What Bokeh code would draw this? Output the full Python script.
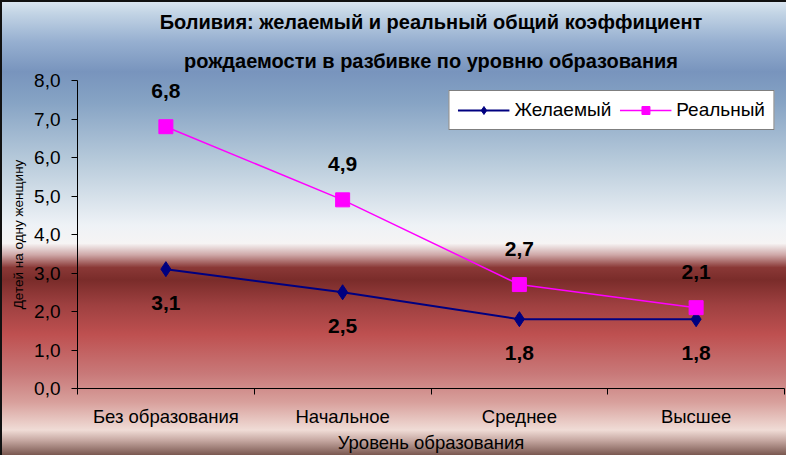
from bokeh.plotting import figure
from bokeh.models import (ColumnDataSource, FixedTicker, CustomJSTickFormatter, Title,
                          Legend, LegendItem, LabelSet, Range1d)
from bokeh.core.properties import value
from bokeh.embed import file_html
from bokeh.resources import INLINE

categories = ["Без образования", "Начальное", "Среднее", "Высшее"]
desired = [3.1, 2.5, 1.8, 1.8]
actual = [6.8, 4.9, 2.7, 2.1]
y_ticks = [0, 1, 2, 3, 4, 5, 6, 7, 8]

xpos = [i + 0.5 for i in range(len(categories))]
fmt = lambda v: f"{v:.1f}".replace(".", ",")
src_d = ColumnDataSource(dict(x=xpos, y=desired, lab=[fmt(v) for v in desired]))
src_a = ColumnDataSource(dict(x=xpos, y=actual, lab=[fmt(v) for v in actual]))

FONT = "Liberation Sans"

p = figure(width=786, height=455, output_backend="svg", toolbar_location=None,
           x_range=Range1d(0, len(categories)), y_range=Range1d(0, 8),
           min_border_left=77, min_border_right=2, min_border_top=80, min_border_bottom=64)
p.title.text = ""
p.border_fill_color = None
p.background_fill_color = None
p.outline_line_color = None
p.grid.visible = False
p.styles = {
    "background-image": "linear-gradient(to bottom, #dfe9f3 0%, #c5d6e6 2.6%, #96afd0 9.2%, #7894bd 15.8%, "
                        "#86a3c4 22.4%, #b8cbdb 35.6%, #eef2f6 49.5%, #f6f4f4 53.5%, #cfa8a8 56%, "
                        "#8a3836 58.8%, #7a2c2a 61.5%, #9e4040 67%, #be5050 73.5%, #c87878 82%, "
                        "#d8a09c 88.4%, #f0dcd6 94.5%, #c8aaa4 96.7%, #7a5850 100%)",
    "box-shadow": "inset 2px 2px 0 #111",
}

# titles (second line added first so it sits nearer the plot)
p.add_layout(Title(text="рождаемости в разбивке по уровню образования", align="center",
                   text_font=FONT, text_font_size="20px", text_font_style="bold",
                   text_color="#000000", standoff=17), "above")
p.add_layout(Title(text="Боливия: желаемый и реальный общий коэффициент", align="center",
                   text_font=FONT, text_font_size="20px", text_font_style="bold",
                   text_color="#000000", standoff=14), "above")

# x axis
xa = p.xaxis[0]
xa.ticker = FixedTicker(ticks=xpos, minor_ticks=list(range(len(categories) + 1)))
xa.major_label_overrides = {x: c for x, c in zip(xpos, categories)}
xa.major_tick_out = 0
xa.major_tick_in = 0
xa.minor_tick_out = 6
xa.minor_tick_in = 0
xa.minor_tick_line_color = "black"
xa.axis_line_color = "black"
xa.major_label_text_font = FONT
xa.major_label_text_font_size = "18.5px"
xa.major_label_text_color = "black"
xa.major_label_standoff = 11
xa.axis_label = "Уровень образования"
xa.axis_label_text_font = FONT
xa.axis_label_text_font_size = "18.5px"
xa.axis_label_text_font_style = "normal"
xa.axis_label_text_color = "black"
xa.axis_label_standoff = 2

# y axis
ya = p.yaxis[0]
ya.ticker = FixedTicker(ticks=y_ticks, minor_ticks=[])
ya.formatter = CustomJSTickFormatter(code="return tick.toFixed(1).replace('.', ',');")
ya.major_tick_out = 6
ya.major_tick_in = 0
ya.major_tick_line_color = "black"
ya.axis_line_color = "black"
ya.major_label_text_font = FONT
ya.major_label_text_font_size = "19px"
ya.major_label_text_color = "black"
ya.major_label_standoff = 11
ya.axis_label = "Детей на одну женщину"
ya.axis_label_text_font = FONT
ya.axis_label_text_font_size = "13.5px"
ya.axis_label_text_font_style = "normal"
ya.axis_label_text_color = "black"
ya.axis_label_standoff = 5

# series
ld = p.line("x", "y", source=src_d, line_color="#000080", line_width=2)
md = p.scatter("x", "y", source=src_d, marker="diamond", size=15, fill_color="#000080",
               line_color="#000080")
la = p.line("x", "y", source=src_a, line_color="#ff00ff", line_width=1.5)
ma = p.scatter("x", "y", source=src_a, marker="square", size=14, fill_color="#ff00ff",
               line_color="#ff00ff")

p.add_layout(LabelSet(x="x", y="y", text="lab", source=src_d, y_offset=-34,
                      text_align="center", text_baseline="middle", text_font=value(FONT),
                      text_font_size=value("21px"), text_font_style="bold", text_color="black"))
p.add_layout(LabelSet(x="x", y="y", text="lab", source=src_a, y_offset=36,
                      text_align="center", text_baseline="middle", text_font=value(FONT),
                      text_font_size=value("21px"), text_font_style="bold", text_color="black"))

legend = Legend(items=[LegendItem(label="Желаемый", renderers=[ld, md]),
                       LegendItem(label="Реальный", renderers=[la, ma])],
                orientation="horizontal", location="top_right",
                background_fill_color="white", background_fill_alpha=1,
                border_line_color="black", border_line_width=1,
                label_text_font=FONT, label_text_font_size="19px", label_text_color="black",
                glyph_width=52, glyph_height=20, spacing=8, padding=8, margin=10,
                label_standoff=5)
p.add_layout(legend)

open("out.html", "w").write(file_html(p, INLINE))
